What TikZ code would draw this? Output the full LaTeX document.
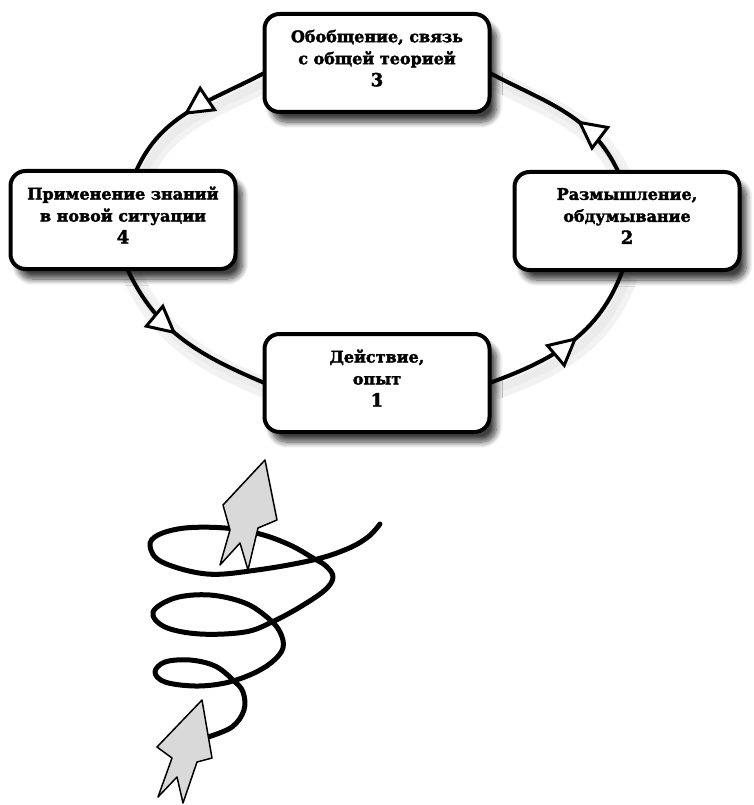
\documentclass[tikz,border=0pt]{standalone}
\usepackage{fontspec}
\setmainfont{DejaVu Serif}[BoldFeatures={FakeBold=2.2}]
\usetikzlibrary{arrows.meta,decorations.markings,shadows.blur}
\pgfdeclarelayer{bg}
\pgfsetlayers{bg,main}

\begin{document}
\begin{tikzpicture}[x=1pt,y=1pt,inner sep=0pt,outer sep=0pt,
stage/.style={draw,rectangle,rounded corners=15pt,fill=white,line width=4pt,minimum width=225pt,minimum height=98pt,align=center,text depth=10pt,font=\bfseries\fontsize{16}{22}\selectfont,blur shadow={shadow xshift=7pt,shadow yshift=-10pt,shadow blur steps=10,shadow blur radius=6pt,shadow opacity=75}},
link/.style={line width=4pt,preaction={draw=black!5,line width=20pt,transform canvas={xshift=5pt,yshift=-7pt}},preaction={draw=black!8,line width=8pt,transform canvas={xshift=5pt,yshift=-7pt}},postaction={decorate},decoration={markings,mark=at position #1 with {\arrow{Triangle[fill=white,length=30pt,width=30pt,line width=3pt]}}}},
coil/.style={line width=5pt,line cap=round,line join=round},
rocket/.style={draw,fill=black!15,line width=1.5pt,line join=round}]
\useasboundingbox (0,0) rectangle (753,-805);

\draw (377,-383) node[stage] (st1) {Действие,\\опыт\\{\fontsize{18}{22}\selectfont 1}};
\draw (627,-221) node[stage] (st2) {Размышление,\\обдумывание\\{\fontsize{18}{22}\selectfont 2}};
\draw (377,-63) node[stage] (st3) {Обобщение, связь\\с общей теорией\\{\fontsize{18}{22}\selectfont 3}};
\draw (123,-220) node[stage] (st4) {Применение знаний\\в новой ситуации\\{\fontsize{18}{22}\selectfont 4}};

\begin{pgfonlayer}{bg}
\draw[link=0.55] (st1.east) to[out=20,in=-110] (st2.265);
\draw[link=0.4] (st2.100) to[out=115,in=-28] (st3.-5);
\draw[link=0.55] (st3.185) to[out=208,in=66] (st4.75);
\draw[link=0.45] (st4.-85) to[out=-65,in=157] (st1.west);
\end{pgfonlayer}

% spiral with the two arrows
\draw[coil] plot[smooth,tension=0.6] coordinates {(208,-737) (232,-727) (244,-710) (243,-692) (233,-680) (215,-666) (190,-660) (165,-662) (155,-672) (165,-682) (195,-686) (225,-683) (252,-674) (272,-662) (283,-648) (280,-632) (268,-618) (245,-603) (210,-595) (175,-598) (153,-612) (165,-627) (200,-634) (245,-632) (272,-622) (300,-607) (325,-590) (333,-577) (326,-566) (313,-558) (290,-545) (260,-534) (225,-528) (185,-528) (158,-535) (150,-546) (162,-562) (207,-574) (257,-570) (313,-560) (347,-549) (368,-537) (380,-524)};
\draw[rocket] (265,-460) -- (277,-520) -- (258,-528) -- (248,-570) -- (240,-543) -- (220,-565) -- (230,-530) -- (223,-505) -- cycle;
\draw[rocket] (202,-700) -- (212,-758) -- (197,-762) -- (183,-803) -- (177,-777) -- (158,-797) -- (172,-758) -- (157,-747) -- cycle;
\end{tikzpicture}
\end{document}
